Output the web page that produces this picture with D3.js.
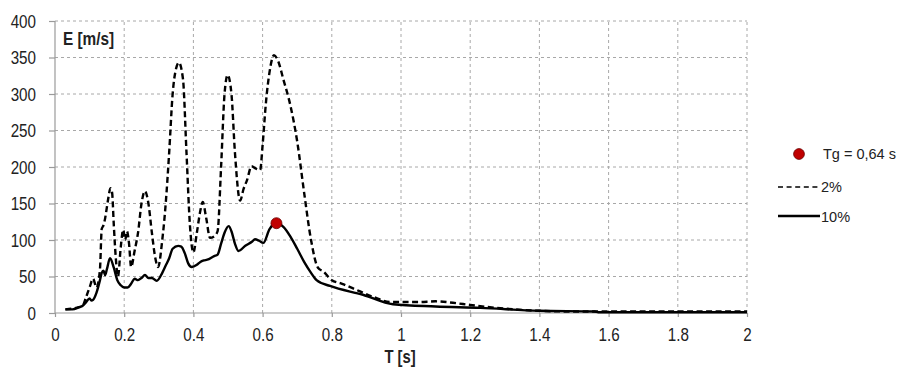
<!DOCTYPE html>
<html><head><meta charset="utf-8">
<script src="https://cdn.jsdelivr.net/npm/d3@7"></script>
<style>
body{margin:0;background:#fff;}
svg{display:block;}
text{font-family:"Liberation Sans",Arial,sans-serif;fill:#222;}
</style></head>
<body><svg id="c" width="906" height="367"></svg>
<script>
const xTicks = [0,0.2,0.4,0.6,0.8,1,1.2,1.4,1.6,1.8,2];
const xTickLabels = ["0","0.2","0.4","0.6","0.8","1","1.2","1.4","1.6","1.8","2"];
const yTicks = [0,50,100,150,200,250,300,350,400];

const T2 = [0.03,0.05,0.07,0.08,0.09,0.10,0.11,0.12,0.13,0.135,0.14,0.145,0.15,0.155,0.16,0.165,0.17,0.175,0.182,0.19,0.197,0.203,0.208,0.214,0.22,0.23,0.24,0.25,0.26,0.27,0.28,0.29,0.298,0.31,0.32,0.33,0.34,0.35,0.358,0.37,0.38,0.39,0.40,0.41,0.42,0.427,0.437,0.448,0.46,0.47,0.48,0.49,0.499,0.51,0.52,0.535,0.545,0.555,0.568,0.58,0.593,0.60,0.61,0.62,0.633,0.645,0.66,0.68,0.70,0.72,0.74,0.76,0.775,0.80,0.83,0.86,0.92,0.97,1.0,1.05,1.1,1.15,1.2,1.3,1.4,1.5,1.6,2.0];
const E2 = [5,6,8,10,22,35,47,35,60,115,120,130,145,160,171,165,120,80,50,90,114,100,112,95,63,85,110,150,167,150,110,75,63,100,150,220,300,335,343,320,220,120,83,110,140,152,130,103,105,112,200,300,326,300,220,154,170,182,201,198,196,230,290,330,353,345,320,285,235,165,100,62,57,45,40,34,22,15,15,15,16,14,11,6,3,2,2,2];

const T10 = [0.03,0.05,0.07,0.08,0.09,0.10,0.105,0.11,0.12,0.13,0.135,0.14,0.145,0.15,0.159,0.17,0.18,0.19,0.20,0.21,0.22,0.23,0.24,0.25,0.26,0.27,0.28,0.294,0.31,0.32,0.33,0.34,0.356,0.365,0.375,0.385,0.395,0.41,0.42,0.43,0.44,0.46,0.47,0.48,0.49,0.502,0.51,0.52,0.53,0.55,0.57,0.578,0.59,0.602,0.62,0.64,0.66,0.68,0.70,0.72,0.74,0.756,0.795,0.89,0.977,1.1,1.23,1.4,1.56,1.57,2.0];
const E10 = [5,5,8,10,15,20,17,18,28,45,55,58,52,60,75,62,45,38,35,35,40,47,45,48,52,48,48,44,55,65,75,88,92,91,82,68,63,66,70,72,73,78,80,95,110,119,112,95,85,92,98,101,99,96,115,123,118,105,88,70,55,45,37,25,12,9,7,3,2,1,1];

const tg = {T:0.64, E:123};
const legendLabels = ["Tg = 0,64 s","2%","10%"];

const svg = d3.select("#c");
const x = d3.scaleLinear().domain([0,2]).range([55,747]);
const y = d3.scaleLinear().domain([0,400]).range([313,21]);

// grid
const g = svg.append("g");
g.selectAll("line.v").data(xTicks.slice(1)).join("line")
  .attr("x1",d=>x(d)).attr("x2",d=>x(d)).attr("y1",y(0)).attr("y2",y(400))
  .attr("stroke","#a8a8a8").attr("stroke-width",1).attr("stroke-dasharray","3,3");
g.selectAll("line.h").data(yTicks.slice(1)).join("line")
  .attr("x1",x(0)).attr("x2",x(2)).attr("y1",d=>y(d)).attr("y2",d=>y(d))
  .attr("stroke","#a8a8a8").attr("stroke-width",1).attr("stroke-dasharray","3,3");

// axes
const SX = 0.8;
const xa = svg.append("g").attr("transform",`translate(0,${y(0)})`)
  .call(d3.axisBottom(x).tickValues(xTicks).tickFormat((d,i)=>xTickLabels[i]).tickSize(4).tickPadding(11));
const ya = svg.append("g").attr("transform",`translate(${x(0)},0)`)
  .call(d3.axisLeft(y).tickValues(yTicks).tickSize(6).tickPadding(13));
[xa,ya].forEach(a=>{
  a.selectAll("path,line").attr("stroke","#9a9a9a").attr("stroke-width",1.2);
  a.select("path.domain").attr("d", a===xa ? `M${x(0)},0H${x(2)}` : `M0,${y(0)}V${y(400)}`);
  a.selectAll("text").attr("font-size",19).attr("fill","#222");
});
xa.selectAll(".tick text").attr("transform",`scale(${SX},1)`);
ya.selectAll(".tick text").each(function(){
  const t = d3.select(this); const x0 = +t.attr("x");
  t.attr("x",0).attr("transform",`translate(${x0},0) scale(${SX},1)`);
});

// lines
const line = d3.line().curve(d3.curveMonotoneX);
svg.append("path").attr("d",line(T2.map((t,i)=>[x(t),y(E2[i])])))
  .attr("fill","none").attr("stroke","#000").attr("stroke-width",2.4).attr("stroke-dasharray","6,3.5");
svg.append("path").attr("d",line(T10.map((t,i)=>[x(t),y(E10[i])])))
  .attr("fill","none").attr("stroke","#000").attr("stroke-width",2.4);

svg.append("circle").attr("cx",x(tg.T)).attr("cy",y(tg.E)).attr("r",5.5)
  .attr("fill","#c00000").attr("stroke","#6a0000").attr("stroke-width",0.8);

// titles
svg.append("text").attr("transform","translate(63,45) scale(0.83,1)").attr("font-size",18.5).attr("font-weight","bold")
  .text("E [m/s]");
svg.append("text").attr("transform","translate(400,363) scale(0.8,1)").attr("font-size",18.5).attr("font-weight","bold")
  .attr("text-anchor","middle").text("T [s]");

// legend
const lg = svg.append("g");
lg.append("circle").attr("cx",799).attr("cy",154).attr("r",5.4).attr("fill","#c00000").attr("stroke","#6a0000").attr("stroke-width",0.8);
lg.append("text").attr("x",823).attr("y",158.5).attr("font-size",14.5).text(legendLabels[0]);
lg.append("line").attr("x1",778).attr("x2",820).attr("y1",187).attr("y2",187).attr("stroke","#000").attr("stroke-width",1.6).attr("stroke-dasharray","5,3.6");
lg.append("text").attr("x",821).attr("y",191.5).attr("font-size",14.5).text(legendLabels[1]);
lg.append("line").attr("x1",778).attr("x2",820).attr("y1",216).attr("y2",216).attr("stroke","#000").attr("stroke-width",2.4);
lg.append("text").attr("x",821).attr("y",221.5).attr("font-size",14.5).text(legendLabels[2]);
</script></body></html>
